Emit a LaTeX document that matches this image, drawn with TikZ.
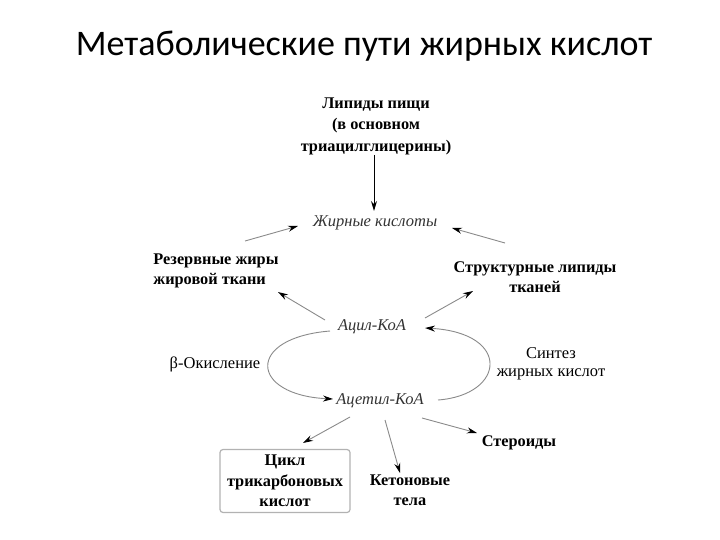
\documentclass[tikz,border=0pt]{standalone}
\usepackage{fontspec}
\setmainfont{Liberation Serif}
\newfontfamily\titlefont{Carlito}
\usetikzlibrary{arrows.meta}
\definecolor{lnk}{HTML}{8A8A8A}
\definecolor{itc}{HTML}{333333}
\tikzset{
  bnode/.style={font=\bfseries\fontsize{16.3}{20.5}\selectfont, align=center, inner sep=1pt},
  inode/.style={font=\itshape\fontsize{16.5}{18}\selectfont, text=itc, inner sep=1pt},
  pnode/.style={font=\fontsize{16.5}{17.5}\selectfont, align=center, inner sep=1pt},
  garrow/.style={draw=lnk, line width=0.9pt, -{Stealth[length=10pt,width=6pt,color=black]}},
  karrow/.style={draw=black, line width=1pt, -{Stealth[length=10pt,width=6pt]}},
  tcabox/.style={bnode, draw=gray!60, line width=1.2pt, rounded corners=3pt, minimum width=130pt, minimum height=63pt}
}
\begin{document}
\begin{tikzpicture}[x=1pt,y=-1pt]
\useasboundingbox (0,0) rectangle (720,540);
\node[font=\titlefont\fontsize{36}{40}\selectfont] (title) at (364,46) {Метаболические пути жирных кислот};

\node[bnode, font=\bfseries\fontsize{16.3}{21.5}\selectfont] (food) at (376,126) {Липиды пищи\\(в основном\\триацилглицерины)};
\node[inode] (fa) at (375,223) {Жирные кислоты};
\node[bnode, align=left] (res) at (216,271) {Резервные жиры\\жировой ткани};
\node[bnode] (str) at (535,277) {Структурные липиды\\тканей};
\node[inode] (acyl) at (372,327) {Ацил-КоА};
\node[inode] (acetyl) at (380,401) {Ацетил-КоА};
\node[pnode] (box) at (215,364) {β-Окисление};
\node[pnode] (syn) at (551,364) {Синтез\\жирных кислот};
\node[tcabox] (tca) at (285,481) {Цикл\\трикарбоновых\\кислот};
\node[bnode] (ket) at (410,490) {Кетоновые\\тела};
\node[bnode] (ster) at (519,443) {Стероиды};

\draw[karrow] ([shift={(-2,29)}]food.center) -- ([shift={(-1,-12)}]fa.center);
\draw[garrow] ([shift={(29,-30)}]res.center) -- ([shift={(-77,3)}]fa.center);
\draw[garrow] ([shift={(-30,-34)}]str.center) -- ([shift={(77,5)}]fa.center);
\draw[garrow] ([shift={(-47,-7)}]acyl.center) -- ([shift={(62,21)}]res.center);
\draw[garrow] ([shift={(53,-9)}]acyl.center) -- ([shift={(-62,14)}]str.center);
\draw[garrow] ([shift={(-42,4)}]acyl.center) .. controls (245,338) and (250,395) .. ([shift={(-47,-2)}]acetyl.center);
\draw[garrow] ([shift={(58,-1)}]acetyl.center) .. controls (505,395) and (512,333) .. ([shift={(53,1)}]acyl.center);
\draw[garrow] ([shift={(-30,16)}]acetyl.center) -- ([shift={(18,-38)}]tca.center);
\draw[garrow] ([shift={(5,19)}]acetyl.center) -- ([shift={(-10,-17)}]ket.center);
\draw[garrow] ([shift={(42,17)}]acetyl.center) -- ([shift={(-42,-10)}]ster.center);
\end{tikzpicture}
\end{document}
